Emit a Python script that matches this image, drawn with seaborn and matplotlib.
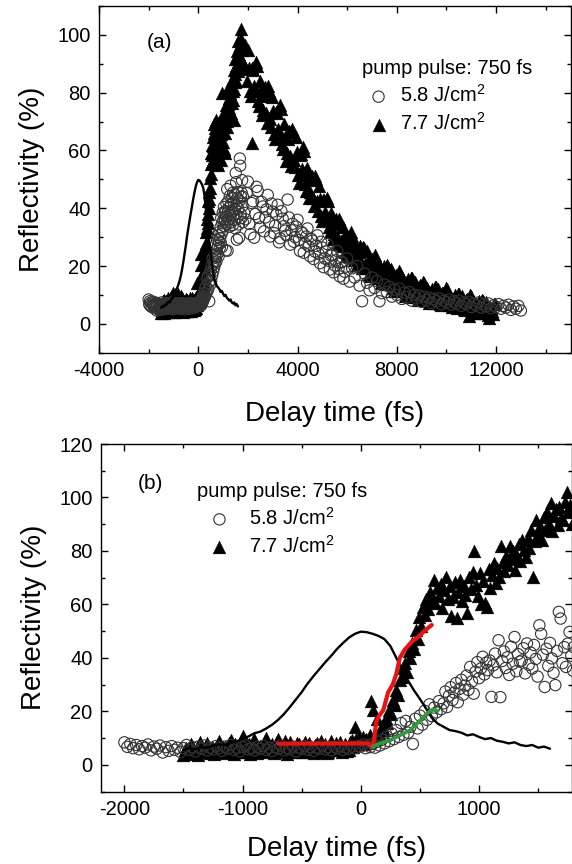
import seaborn as sns
import matplotlib.pyplot as plt
from matplotlib.ticker import MultipleLocator

sns.set_style("ticks")
plt.rcParams['font.family'] = ['Liberation Sans', 'DejaVu Sans']
plt.rcParams['mathtext.fontset'] = 'custom'
plt.rcParams['mathtext.rm'] = 'Liberation Sans'
plt.rcParams['axes.unicode_minus'] = False
plt.rcParams.update({'axes.edgecolor': 'black', 'text.color': 'black',
                     'xtick.color': 'black', 'ytick.color': 'black',
                     'axes.labelcolor': 'black'})

# 5.8 J/cm2 (open circles), delay time in fs / reflectivity in %
circ_t = [
    -2000, -1975, -1950, -1925, -1900, -1875, -1850, -1825, -1800, -1775,
    -1750, -1725, -1700, -1675, -1650, -1625, -1600, -1575, -1550, -1525,
    -1500, -1475, -1450, -1425, -1400, -1375, -1350, -1325, -1300, -1275,
    -1250, -1225, -1200, -1175, -1150, -1125, -1100, -1075, -1050, -1025,
    -1000, -975, -950, -925, -900, -875, -850, -825, -800, -775,
    -750, -725, -700, -675, -650, -625, -600, -575, -550, -525,
    -500, -475, -450, -425, -400, -375, -350, -325, -300, -275,
    -250, -225, -200, -175, -150, -125, -100, -75, -50, -25,
    0, 20, 40, 60, 80, 100, 120, 140, 160, 180,
    200, 220, 240, 260, 280, 300, 320, 340, 360, 380,
    400, 420, 440, 460, 480, 500, 520, 540, 560, 580,
    600, 620, 640, 660, 680,
    700, 715, 730, 745, 760, 775, 790, 805, 820, 835,
    850, 865, 880, 895, 910, 925, 940, 955, 970, 985,
    1000, 1015, 1030, 1045, 1060, 1075, 1090, 1105, 1120, 1135,
    1150, 1165, 1180, 1195, 1210, 1225, 1240, 1255, 1270, 1285,
    1300, 1315, 1330, 1345, 1360, 1375, 1390, 1405, 1420, 1435,
    1450, 1465, 1480, 1495, 1510, 1525, 1540, 1555, 1570, 1585,
    1600, 1615, 1630, 1645, 1660, 1675, 1690, 1705, 1720, 1735,
    1750, 1765, 1780, 1795,
    1800, 1900, 2000, 2100, 2200, 2300, 2400, 2500, 2600, 2700,
    2800, 2900, 3000, 3100, 3200, 3300, 3400, 3500, 3600, 3700,
    3800, 3900, 4000, 4100, 4200, 4300, 4400, 4500, 4600, 4700,
    4800, 4900, 5000, 5100, 5200, 5300, 5400, 5500, 5600, 5700,
    5800, 5900, 6000, 6100, 6200, 6300, 6400, 6500, 6600, 6700,
    6800, 6900, 7000, 7100, 7200, 7300, 7400, 7500, 7600, 7700,
    7800, 7900, 8000, 8100, 8200, 8300, 8400, 8500, 8600, 8700,
    8800, 8900, 9000, 9100, 9200, 9300, 9400, 9500, 9600, 9700,
    9800, 9900, 10000, 10100, 10200, 10300, 10400, 10500, 10600, 10700,
    10800, 10900, 11000, 11100, 11200, 11300, 11400, 11500, 11600, 11700,
    11800, 11900, 12000, 12100, 12200, 12300, 12400, 12500, 12600, 12700,
    12800, 12900, 13000,
    1850, 1950, 2050, 2150, 2250, 2350, 2450, 2550, 2650, 2750,
    2850, 2950, 3050, 3150, 3250, 3350, 3450, 3550, 3650, 3750,
    3850, 3950, 4050, 4150, 4250, 4350, 4450, 4550, 4650, 4750,
    4850, 4950, 5050, 5150, 5250, 5350, 5450, 5550, 5650, 5750,
    5850, 5950,
]
circ_r = [
    8.4, 6.7, 7.8, 6.2, 7.4, 5.8, 7.0, 6.4, 7.6, 5.4,
    6.8, 6.0, 7.2, 4.6, 6.6, 5.2, 7.0, 5.6, 6.4, 4.8,
    6.2, 7.4, 5.6, 6.6, 5.0, 6.8, 6.0, 7.2, 5.4, 6.4,
    5.8, 7.0, 6.2, 5.2, 6.8, 6.0, 7.4, 5.6, 6.4, 5.0,
    6.6, 7.2, 5.8, 6.2, 5.4, 6.8, 6.0, 7.0, 5.6, 6.4,
    5.2, 6.6, 6.0, 7.2, 5.4, 6.2, 5.8, 6.8, 5.0, 6.4,
    6.0, 7.0, 5.6, 6.6, 5.2, 6.4, 6.0, 7.2, 5.8, 6.6,
    5.4, 6.8, 6.2, 7.0, 5.6, 6.4, 6.0, 6.8, 6.2, 7.0,
    6.8, 7.6, 6.2, 7.4, 6.6, 7.8, 6.4, 8.6, 7.2, 9.4,
    8.0, 10.6, 8.8, 11.8, 9.6, 13.0, 10.4, 15.6, 11.2, 16.4,
    12.0, 14.2, 7.8, 17.2, 13.6, 18.4, 15.0, 20.2, 16.8, 22.6,
    18.2, 21.4, 19.6, 23.8, 20.8,
    23.0, 27.4, 21.6, 25.8, 29.0, 24.2, 27.0, 30.6, 23.4, 28.4,
    31.8, 26.2, 29.6, 33.4, 28.0, 36.6, 31.2, 26.6, 34.8, 38.4,
    32.4, 36.0, 40.4, 33.8, 38.2, 35.4, 39.0, 25.4, 37.2, 41.6,
    34.6, 46.6, 25.3, 38.8, 42.4, 36.2, 40.2, 33.6, 44.2, 37.8,
    47.8, 35.0, 41.4, 38.6, 39.0, 43.6, 34.2, 45.4, 37.4, 42.0,
    36.0, 44.8, 39.6, 33.0, 52.2, 49.0, 41.2, 29.1, 43.4, 37.0,
    45.6, 39.8, 34.4, 29.8, 42.6, 57.2, 54.7, 38.0, 44.0, 36.6,
    45.3, 49.7, 40.8, 35.2,
    44.0, 36.2, 49.2, 31.0, 42.4, 38.0, 46.0, 33.4, 40.6, 36.8,
    44.6, 30.2, 38.8, 34.0, 41.2, 29.6, 36.4, 32.2, 43.0, 27.4,
    34.6, 30.0, 36.0, 25.2, 31.4, 27.8, 33.0, 23.4, 28.8, 25.0,
    30.6, 21.0, 26.4, 22.6, 27.6, 18.8, 24.0, 20.2, 25.2, 16.4,
    21.4, 18.0, 22.6, 14.6, 19.2, 16.0, 20.0, 13.2, 7.8, 17.4,
    14.2, 11.6, 16.0, 12.4, 14.8, 7.8, 10.6, 13.6, 11.0, 12.8,
    9.4, 11.8, 10.0, 12.2, 8.6, 10.8, 9.2, 11.0, 8.0, 10.0,
    8.8, 9.8, 7.6, 9.4, 8.2, 9.0, 7.2, 8.6, 7.8, 8.8,
    6.8, 8.0, 7.4, 8.4, 6.6, 7.8, 7.0, 8.0, 6.2, 7.4,
    6.8, 7.6, 5.8, 7.0, 6.4, 7.4, 5.6, 6.8, 6.0, 7.0,
    5.4, 6.4, 5.8, 6.8, 5.2, 6.2, 5.6, 6.6, 4.8, 6.0,
    5.2, 6.2, 4.6,
    38.4, 45.2, 34.6, 41.8, 29.8, 47.4, 36.6, 42.2, 32.0, 39.6,
    35.2, 41.6, 31.4, 37.8, 28.2, 39.0, 33.8, 30.6, 36.8, 32.4,
    28.4, 33.6, 29.0, 31.8, 24.6, 30.2, 26.8, 29.4, 22.4, 27.0,
    24.2, 28.4, 19.6, 25.0, 21.8, 23.6, 17.8, 22.0, 19.0, 21.2,
    15.6, 19.8,
]

# 7.7 J/cm2 (filled triangles)
tri_t = [
    -1500, -1475, -1450, -1425, -1400, -1375, -1350, -1325, -1300, -1275,
    -1250, -1225, -1200, -1175, -1150, -1125, -1100, -1075, -1050, -1025,
    -1000, -975, -950, -925, -900, -875, -850, -825, -800, -775,
    -750, -725, -700, -675, -650, -625, -600, -575, -550, -525,
    -500, -475, -450, -425, -400, -375, -350, -325, -300, -275,
    -250, -225, -200, -175, -150, -125, -100, -75, -50, -25,
    0, 15, 30, 45, 60, 75, 90, 105, 120, 135,
    150, 165, 180, 195, 210, 225, 240, 255, 270, 285,
    300, 315, 330, 345, 360, 375, 390, 405, 420, 435,
    450, 465, 480, 495, 510, 525, 540, 555, 570, 585, 600,
    615, 630, 645, 660, 675, 690, 705, 720, 735, 750,
    765, 780, 795, 810, 825, 840, 855, 870, 885, 900,
    915, 930, 945, 960, 975, 990, 1005, 1020, 1035, 1050,
    1065, 1080, 1095, 1110, 1125, 1140, 1155, 1170, 1185, 1200,
    1215, 1230, 1245, 1260, 1275, 1290, 1305, 1320, 1335, 1350,
    1365, 1380, 1395, 1410, 1425, 1440, 1455, 1470, 1485, 1500,
    1515, 1530, 1545, 1560, 1575, 1590, 1605, 1620, 1635, 1650,
    1665, 1680, 1695, 1710, 1725, 1740, 1755, 1770, 1785, 1800,
    1880, 1960, 2040, 2120, 2160, 2200, 2280, 2360, 2440, 2520,
    2600, 2680, 2760, 2840, 2920, 3000, 3080, 3160, 3240, 3320,
    3400, 3480, 3560, 3640, 3720, 3800, 3880, 3960, 4040, 4120,
    4200, 4280, 4360, 4440, 4520, 4600, 4680, 4760, 4840, 4920,
    5000, 5080, 5160, 5240, 5320, 5400, 5480, 5560, 5640, 5720,
    5800, 5880, 5960, 6040, 6120, 6200, 6280, 6360, 6440, 6520,
    6600, 6680, 6760, 6840, 6920, 7000, 7080, 7160, 7240, 7320,
    7400, 7480, 7560, 7640, 7720, 7800, 7880, 7960, 8040, 8120,
    8200, 8280, 8360, 8440, 8520, 8600, 8680, 8760, 8840, 8920,
    9000, 9080, 9160, 9240, 9320, 9400, 9480, 9560, 9640, 9720,
    9800, 9880, 9960, 10040, 10120, 10200, 10280, 10360, 10440, 10520,
    10600, 10680, 10760, 10840, 10920, 11000, 11080, 11160, 11240, 11320,
    11400, 11480, 11560, 11640, 11720, 11800, 11880, 11960,
    -1488, -1463, -1438, -1413, -1388, -1363, -1338, -1313, -1288, -1263,
    -1238, -1213, -1188, -1163, -1138, -1113, -1088, -1063, -1038, -1013,
    -988, -963, -938, -913, -888, -863, -838, -813, -788, -763,
    -738, -713, -688, -663, -638, -613, -588, -563, -538, -513,
    -488, -463, -438, -413, -388, -363, -338, -313, -288, -263,
    -238, -213, -188, -163, -138, -113, -88, -63, -38, -13,
    1920, 2000, 2080, 2160, 2240, 2320, 2400, 2480, 2560, 2640,
    2720, 2800, 2880, 2960, 3040, 3120, 3200, 3280, 3360, 3440,
    3520, 3600, 3680, 3760, 3840, 3920, 4000, 4080, 4160, 4240,
    4320, 4400, 4480, 4560, 4640, 4720, 4800, 4880, 4960, 5040,
    5120, 5200, 5280, 5360, 5440, 5520, 5600, 5680, 5760, 5840,
    5920, 6000, 6080, 6160, 6240, 6320, 6400, 6480, 6560, 6640,
    6720, 6800, 6880, 6960, 7040, 7120, 7200, 7280, 7360, 7440,
    7520, 7600, 7680, 7760, 7840, 7920, 8000, 8080, 8160, 8240,
    8320, 8400, 8480, 8560, 8640, 8720, 8800, 8880, 8960, 9040,
    9120, 9200, 9280, 9360, 9440, 9520, 9600, 9680, 9760, 9840,
    9920, 10000, 10080, 10160, 10240, 10320, 10400, 10480, 10560, 10640,
    10720, 10800, 10880, 10960, 11040, 11120, 11200, 11280, 11360, 11440,
    11520, 11600, 11680, 11760, 11840, 11920,
]
tri_r = [
    3.6, 6.4, 4.8, 7.2, 5.0, 3.8, 6.6, 5.4, 8.0, 4.4,
    6.2, 5.2, 8.8, 4.6, 6.8, 5.6, 9.4, 4.2, 7.0, 5.8,
    10.6, 4.8, 7.6, 5.4, 9.8, 4.4, 7.2, 6.0, 10.2, 5.0,
    7.8, 4.6, 9.6, 5.6, 7.0, 4.2, 8.4, 6.2, 5.0, 7.6,
    4.8, 8.6, 5.8, 6.8, 4.4, 8.0, 6.0, 5.2, 7.8, 4.8,
    9.0, 6.2, 5.4, 8.4, 6.4, 7.2, 5.6, 9.2, 14.0, 7.8,
    8.2, 10.4, 7.6, 9.8, 8.8, 11.2, 24.0, 20.4, 9.6, 17.3,
    12.0, 10.8, 14.6, 13.0, 17.4, 15.8, 20.6, 19.0, 24.2, 22.4,
    28.0, 26.2, 31.6, 33.0, 36.2, 38.0, 34.8, 42.6, 40.0, 45.6,
    43.2, 50.4, 47.0, 55.4, 51.8, 59.0, 56.0, 62.0, 58.4, 64.8, 61.6,
    69.2, 60.4, 66.0, 63.2, 67.8, 58.6, 65.4, 70.4, 62.0, 67.0,
    55.8, 62.9, 68.4, 55.0, 64.6, 69.2, 61.2, 66.8, 63.4, 56.7,
    70.2, 65.6, 72.0, 79.8, 67.4, 63.0, 71.6, 60.3, 68.8, 60.4,
    59.0, 73.4, 66.2, 71.0, 75.6, 68.0, 73.8, 70.2, 81.7, 76.0,
    72.4, 78.2, 74.6, 81.7, 76.8, 79.8, 73.0, 78.0, 82.6, 76.4,
    84.2, 80.4, 77.6, 85.0, 81.2, 87.9, 70.4, 83.6, 91.7, 86.4,
    89.2, 84.0, 92.6, 88.0, 94.4, 90.2, 97.9, 87.4, 93.0, 95.8,
    89.6, 96.6, 92.4, 91.7, 98.4, 102.0, 94.6, 97.2, 90.0, 95.4,
    96.6, 84.2, 88.6, 78.8, 62.6, 88.0, 80.6, 89.2, 75.4, 80.8,
    74.0, 81.8, 69.6, 80.4, 68.2, 73.6, 63.8, 73.0, 65.6, 74.2,
    60.4, 64.8, 59.0, 66.8, 54.6, 66.4, 54.2, 59.6, 48.8, 58.8,
    51.8, 59.8, 46.1, 50.7, 45.5, 51.2, 40.8, 50.2, 39.1, 43.2,
    35.6, 43.0, 36.2, 42.4, 31.8, 35.6, 31.0, 36.3, 27.6, 35.4,
    27.0, 30.0, 23.5, 30.0, 25.5, 30.5, 22.0, 25.5, 22.0, 27.0,
    19.4, 26.1, 19.3, 21.9, 16.5, 22.3, 18.2, 22.6, 15.7, 18.4,
    15.5, 19.9, 13.8, 19.7, 13.6, 16.3, 11.4, 17.0, 13.3, 17.6,
    11.2, 13.9, 11.0, 15.4, 9.3, 15.7, 9.9, 12.7, 8.4, 13.3,
    10.0, 14.2, 8.6, 10.9, 8.8, 12.1, 7.2, 12.8, 7.4, 10.2,
    6.4, 10.8, 8.0, 12.2, 6.4, 8.8, 7.0, 9.8, 5.6, 10.4,
    5.7, 8.1, 4.8, 8.5, 2.6, 9.7, 4.4, 6.8, 4.5, 7.8,
    3.6, 7.9, 3.7, 6.5, 2.1, 5.3, 3.3, 6.8,
    5.6, 4.2, 7.8, 5.0, 6.2, 8.4, 4.6, 7.0, 5.2, 6.8,
    4.0, 7.4, 5.8, 6.6, 4.4, 8.2, 5.4, 7.6, 4.8, 8.8,
    6.0, 7.4, 4.2, 8.6, 5.2, 6.8, 4.6, 8.8, 5.6, 7.0,
    4.4, 8.4, 6.0, 5.0, 9.0, 5.4, 6.2, 4.6, 8.0, 5.8,
    7.0, 4.6, 8.2, 5.4, 7.4, 4.8, 8.8, 6.4, 4.4, 7.2,
    5.6, 8.0, 6.8, 4.8, 7.6, 5.2, 8.4, 6.6, 9.6, 10.4,
    88.2, 94.6, 80.6, 88.4, 82.4, 90.6, 77.2, 84.2, 72.4, 78.8,
    73.0, 82.4, 70.8, 78.6, 65.6, 73.4, 67.4, 75.6, 62.2, 69.2,
    56.4, 63.8, 58.0, 67.4, 56.8, 64.6, 51.6, 58.4, 53.5, 61.1,
    48.5, 53.8, 43.4, 49.7, 43.5, 51.2, 42.4, 47.6, 37.2, 42.8,
    38.8, 43.7, 33.4, 38.4, 29.3, 34.6, 30.3, 36.4, 28.8, 33.5,
    25.0, 29.5, 26.5, 31.8, 23.0, 27.5, 20.3, 25.0, 21.5, 26.6,
    20.7, 25.2, 17.4, 21.9, 19.1, 23.8, 16.6, 20.1, 14.2, 17.9,
    15.5, 20.2, 14.9, 18.8, 12.3, 16.2, 14.2, 18.3, 11.6, 15.6,
    9.7, 13.4, 11.0, 15.7, 10.9, 14.5, 9.2, 12.6, 10.8, 14.3,
    8.9, 12.4, 7.2, 10.9, 8.3, 12.8, 8.6, 12.0, 6.7, 10.6,
    8.3, 12.3, 6.9, 9.7, 5.7, 8.8, 6.5, 10.4, 6.8, 9.6,
    5.1, 8.4, 6.4, 9.9, 5.2, 7.7, 3.6, 6.3, 4.5, 8.4,
    4.3, 7.6, 3.0, 5.8, 4.5, 6.9,
]

# pump pulse profile (solid black line)
pulse_t = [
    -1500, -1450, -1400, -1350, -1300, -1250, -1200, -1150, -1100, -1050,
    -1000, -950, -900, -850, -800, -750, -700, -650, -600, -550,
    -500, -450, -400, -350, -300, -250, -200, -150, -100, -50,
    0, 50, 100, 150, 200, 250, 300, 350, 400, 450,
    500, 550, 600, 650, 700, 750, 800, 850, 900, 950,
    1000, 1050, 1100, 1150, 1200, 1250, 1300, 1350, 1400, 1450,
    1500, 1550, 1600,
]
pulse_r = [
    5.5, 6.2, 5.8, 6.6, 6.4, 7.2, 7.6, 7.4, 8.2, 8.8,
    9.6, 10.6, 11.8, 12.4, 13.6, 15.0, 16.8, 19.0, 21.6, 24.4,
    27.2, 30.4, 33.2, 35.8, 38.4, 40.8, 43.4, 45.6, 47.6, 49.0,
    49.8, 49.6, 49.0, 48.2, 47.0, 44.4, 40.0, 35.6, 31.4, 27.8,
    24.6, 21.2, 17.6, 15.4, 14.2, 13.0, 12.6, 12.0, 11.0, 11.4,
    10.4, 9.6, 10.0, 9.0, 8.6, 8.0, 8.4, 7.4, 7.0, 7.4,
    6.4, 6.8, 6.0,
]

# fitted curves shown only in panel (b)
red_t = [-700, 0, 60, 100, 110, 130, 150, 190, 230, 270, 300, 330, 370, 430, 490, 540, 600]
red_r = [7.9, 8.0, 8.0, 6.6, 9.0, 16.0, 18.0, 20.5, 27.0, 30.0, 34.0, 40.0, 43.0, 46.0, 48.0, 50.2, 52.3]
green_t = [100, 160, 250, 330, 420, 470, 530, 570, 610, 650]
green_r = [6.8, 8.0, 9.2, 11.0, 13.0, 15.2, 17.8, 19.6, 20.6, 20.2]

legend_title = 'pump pulse: 750 fs'
label_58 = '5.8 J/cm$^2$'
label_77 = '7.7 J/cm$^2$'


def draw_data(ax):
    sns.scatterplot(x=tri_t, y=tri_r, ax=ax, marker='^', s=85, color='black',
                    edgecolor='black', linewidth=0.3, label=label_77, zorder=2)
    sns.scatterplot(x=circ_t, y=circ_r, ax=ax, marker='o', s=66, color='0.2',
                    edgecolor='0.2', linewidth=0.8, label=label_58, zorder=3)
    ax.collections[-1].set_facecolor('none')
    sns.lineplot(x=pulse_t, y=pulse_r, ax=ax, color='black', linewidth=1.7,
                 sort=False, estimator=None, zorder=4)


def style_axes(ax, xmaj, xmin):
    ax.xaxis.set_major_locator(MultipleLocator(xmaj))
    ax.xaxis.set_minor_locator(MultipleLocator(xmin))
    ax.yaxis.set_major_locator(MultipleLocator(20))
    ax.yaxis.set_minor_locator(MultipleLocator(10))
    ax.tick_params(which='both', direction='in', top=True, right=True,
                   labelsize=14.5, width=1.0, pad=6)
    ax.tick_params(which='major', length=5)
    ax.tick_params(which='minor', length=3)
    for sp in ax.spines.values():
        sp.set_linewidth(1.0)
        sp.set_visible(True)
    ax.set_ylabel('Reflectivity (%)', fontsize=20, labelpad=9)


def add_legend(ax, anchor, hlen, hpad):
    handles, labels = ax.get_legend_handles_labels()
    order = [labels.index(label_58), labels.index(label_77)]
    ax.legend([handles[i] for i in order], [labels[i] for i in order],
              title=legend_title, loc='upper left', bbox_to_anchor=anchor,
              frameon=False, fontsize=14.5, title_fontsize=14.5,
              borderpad=0, borderaxespad=0, handlelength=hlen,
              handletextpad=hpad, labelspacing=0.3, alignment='left')


fig = plt.figure(figsize=(5.72, 8.64), dpi=100)
ax_a = fig.add_axes([0.1731, 0.5918, 0.8243, 0.4013])
ax_b = fig.add_axes([0.1761, 0.0839, 0.8237, 0.4022])

# panel (a)
draw_data(ax_a)
ax_a.set_xlim(-4000, 15000)
ax_a.set_ylim(-10, 110)
style_axes(ax_a, 4000, 2000)
ax_a.set_xlabel('Delay time (fs)', fontsize=20, labelpad=15)
ax_a.text(0.1006, 0.895, '(a)', transform=ax_a.transAxes, fontsize=15,
          ha='left', va='center')
add_legend(ax_a, (0.5576, 0.847), 1.65, 0.25)

# panel (b)
draw_data(ax_b)
sns.lineplot(x=red_t, y=red_r, ax=ax_b, color='#ee1111', linewidth=3,
             sort=False, estimator=None, zorder=5)
sns.lineplot(x=green_t, y=green_r, ax=ax_b, color='#2e9b3a', linewidth=2.6,
             sort=False, estimator=None, zorder=5)
ax_b.set_xlim(-2200, 1785)
ax_b.set_ylim(-10, 120)
style_axes(ax_b, 1000, 500)
ax_b.set_xlabel('Delay time (fs)', fontsize=20, labelpad=12)
ax_b.text(0.0795, 0.887, '(b)', transform=ax_b.transAxes, fontsize=15,
          ha='left', va='center')
add_legend(ax_b, (0.205, 0.8915), 2.2, 0.35)

fig.savefig('out.png', dpi=100)
